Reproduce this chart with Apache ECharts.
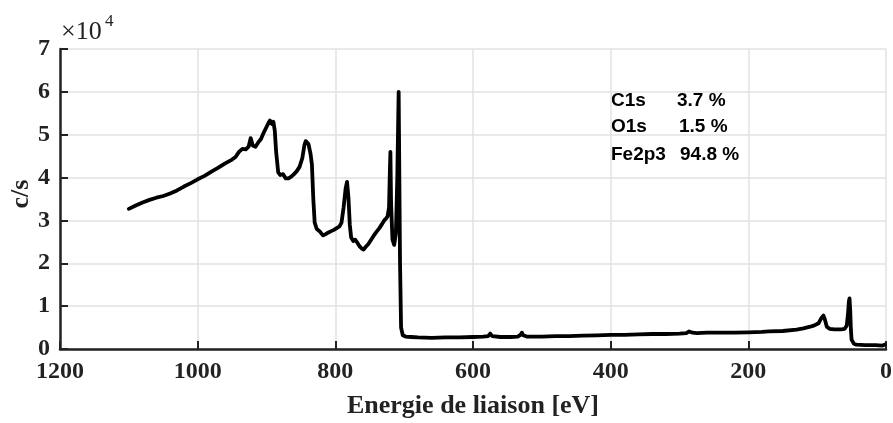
<!DOCTYPE html>
<html>
<head>
<meta charset="utf-8">
<script src="https://cdn.jsdelivr.net/npm/echarts@6/dist/echarts.min.js"></script>
<style>
html,body{margin:0;padding:0;background:#fff;}
#chart{width:893px;height:423px;}
</style>
</head>
<body>
<div id="chart"></div>
<script>
// Binding energy (eV)
var energy = [1100,1090,1080,1070,1060,1050,1040,1030,1020,1010,1000,990,980,970,960,950,945,940,935,930,926,923,920,916,912,908,904,900,897,895,892,890,888,886,883,880,876,872,868,864,860,856,852,848,845,843,841,839,836,834,832,830,827,823,818,814,810,806,802,798,794,791,788,785,783,781,779,777,774,771,768,765,762,759,756,752,748,744,740,736,732,729,726,724,722,721,720,719,717,714.5,712,710,708,706,704.5,702,698,690,680,660,640,620,600,585,578,575,572,560,545,535,531,529,527,522,500,480,460,440,420,400,380,360,340,320,300,290,286,284,281,275,260,240,220,200,180,170,150,130,120,110,104,98,94,91,89,86,82,75,65,60,57,55,54,53,52,51,50,47,43,30,15,5,2];
// Intensity (c/s)
var counts = [32700,33500,34200,34800,35300,35700,36300,37000,37900,38700,39600,40400,41400,42300,43300,44200,44800,46000,46700,46600,47200,49200,47500,47200,48200,49000,50500,51800,52800,53300,52500,53000,51000,46000,41200,40600,40800,39800,39800,40200,40800,41500,42500,44500,47500,48500,48300,47800,45500,43000,35000,29500,28000,27500,26500,26800,27200,27500,27800,28200,28600,29500,33000,37500,39000,35500,29000,26000,25200,25500,24800,24000,23500,23200,23800,24500,25500,26500,27400,28200,29200,30000,30500,31000,33000,40000,46000,34000,25500,24300,27000,40000,60000,20000,5000,3200,2900,2800,2700,2600,2700,2700,2800,2900,3000,3600,3000,2800,2800,2900,3300,3800,3200,2900,2900,3000,3000,3100,3200,3300,3300,3400,3500,3500,3600,3700,4100,4400,3800,3700,3800,3800,3800,3900,4000,4100,4200,4500,4800,5200,5500,6000,7200,7800,7000,5200,4700,4600,4600,4700,5500,8500,11000,11800,9000,4500,2200,1300,1000,900,900,800,1000];
var xTicks = [1200,1000,800,600,400,200,0];
var yTickLabels = ['0','1','2','3','4','5','6','7'];
var yAxisTitle = 'c/s';
var annotLabels = ['C1s','O1s','Fe2p3'];
var annotValues = ['3.7 %','1.5 %','94.8 %'];

var seriesData = energy.map(function(e,i){return [e, counts[i]];});

var chart = echarts.init(document.getElementById('chart'), null, {renderer:'canvas'});
var serif = '"Liberation Serif","Times New Roman",serif';
var sans = '"Liberation Sans",Arial,sans-serif';

var graphics = [
  {type:'text', left:61, top:19, style:{text:'×10', font:'26px '+serif, fill:'#222'}},
  {type:'text', left:105, top:13, style:{text:'4', font:'17px '+serif, fill:'#222'}},
  {type:'text', x:21, y:194, rotation:Math.PI/2,
   style:{text:yAxisTitle, font:'bold 26px '+serif, fill:'#222', align:'center', verticalAlign:'middle'}}
];
var rowY = [91, 117, 145];
var valX = [677, 679, 680];
for (var i=0;i<annotLabels.length;i++){
  graphics.push({type:'text', left:611, top:rowY[i], style:{text:annotLabels[i], font:'bold 19px '+sans, fill:'#000'}});
  graphics.push({type:'text', left:valX[i], top:rowY[i], style:{text:annotValues[i], font:'bold 19px '+sans, fill:'#000'}});
}

chart.setOption({
  animation:false,
  backgroundColor:'#fff',
  grid:{left:60, right:7, top:49, bottom:74, containLabel:false, outerBoundsMode:'none'},
  xAxis:{
    type:'value', inverse:true, min:0, max:1200, interval:200,
    name:'Energie de liaison [eV]', nameLocation:'middle', nameGap:44,
    nameTextStyle:{fontFamily:serif, fontWeight:'bold', fontSize:26, color:'#222'},
    axisLine:{show:true, onZero:false, lineStyle:{color:'#222', width:2.5}},
    axisTick:{show:true, inside:true, length:8, lineStyle:{color:'#222', width:2}},
    axisLabel:{fontFamily:serif, fontWeight:'bold', fontSize:24, color:'#222', margin:11,
      formatter:function(v){return xTicks.indexOf(v)>=0 ? String(v) : '';}},
    splitLine:{show:true, lineStyle:{color:'#e2e2e2', width:1.5}}
  },
  yAxis:{
    type:'value', min:0, max:70000, interval:10000,
    axisLine:{show:true, onZero:false, lineStyle:{color:'#222', width:2.5}},
    axisTick:{show:true, inside:true, length:8, lineStyle:{color:'#222', width:2}},
    axisLabel:{fontFamily:serif, fontWeight:'bold', fontSize:24, color:'#222', margin:10,
      formatter:function(v){return yTickLabels[Math.round(v/10000)];}},
    splitLine:{show:true, lineStyle:{color:'#e2e2e2', width:1.5}}
  },
  series:[{
    type:'line', data:seriesData, showSymbol:false, symbol:'none',
    lineStyle:{color:'#000', width:3.8, join:'round', cap:'round'},
    z:5
  }],
  graphic:graphics
});
</script>
</body>
</html>
